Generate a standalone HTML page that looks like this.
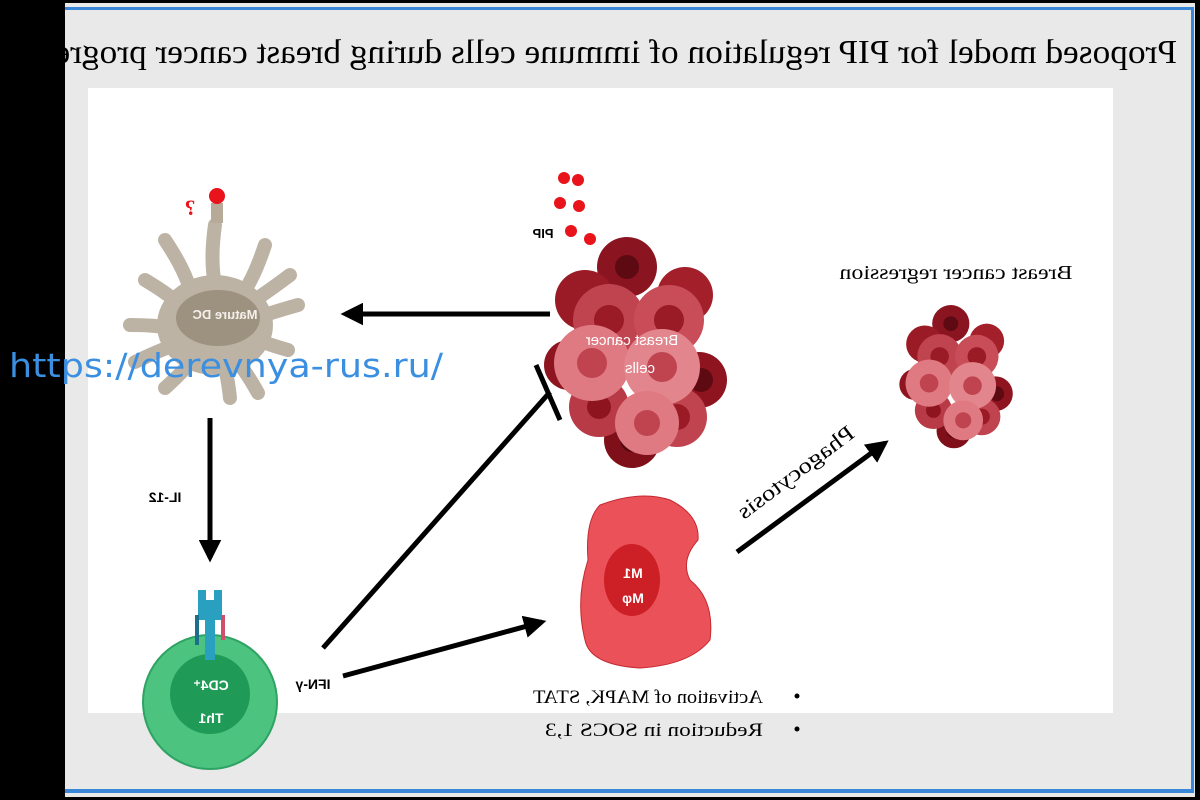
<!DOCTYPE html>
<html><head><meta charset="utf-8"><style>
html,body{margin:0;padding:0;background:#000;width:1200px;height:800px;overflow:hidden}
svg{display:block}
.m{font-family:"Liberation Sans",sans-serif}
.s{font-family:"Liberation Serif",serif}
</style></head><body>
<svg width="1200" height="800" viewBox="0 0 1200 800" xmlns="http://www.w3.org/2000/svg">
<defs>
<g id="tumor">
 <circle cx="-10" cy="-78" r="30" fill="#8a1420"/><circle cx="-10" cy="-78" r="12" fill="#5e0a12"/>
 <circle cx="48" cy="-50" r="28" fill="#a3202b"/>
 <circle cx="-52" cy="-45" r="30" fill="#9a1a25"/>
 <circle cx="62" cy="35" r="28" fill="#8e1520"/><circle cx="64" cy="35" r="12" fill="#5e0a12"/>
 <circle cx="-5" cy="95" r="28" fill="#7f1019"/><circle cx="-5" cy="95" r="12" fill="#560810"/>
 <circle cx="-68" cy="20" r="25" fill="#8e1520"/>
 <circle cx="-28" cy="-25" r="36" fill="#c04450"/><circle cx="-28" cy="-25" r="15" fill="#9a1a25"/>
 <circle cx="32" cy="-25" r="35" fill="#c84d58"/><circle cx="32" cy="-25" r="15" fill="#9a1a25"/>
 <circle cx="40" cy="72" r="30" fill="#c04450"/><circle cx="40" cy="72" r="13" fill="#9a1a25"/>
 <circle cx="-38" cy="62" r="30" fill="#b83a46"/><circle cx="-38" cy="62" r="12" fill="#8e1520"/>
 <circle cx="-45" cy="18" r="38" fill="#e07a82"/><circle cx="-45" cy="18" r="15" fill="#c04450"/>
 <circle cx="25" cy="22" r="38" fill="#e3858c"/><circle cx="25" cy="22" r="15" fill="#c04450"/>
 <circle cx="10" cy="78" r="32" fill="#e07a82"/><circle cx="10" cy="78" r="13" fill="#c04450"/>
</g>
<marker id="ah" viewBox="0 0 10 10" refX="8" refY="5" markerWidth="4.5" markerHeight="4.5" orient="auto"><path d="M0,0 L10,5 L0,10 z" fill="#000"/></marker>
</defs>
<rect x="65" y="3" width="1130" height="794" fill="#e9e9e9"/>
<rect x="65" y="7" width="1128" height="3" fill="#3a86d8"/>
<rect x="1191" y="7" width="3" height="786" fill="#3a86d8"/>
<rect x="65" y="789" width="1129" height="4" fill="#3a86d8"/>
<text class="s" font-size="34" text-anchor="middle" textLength="1150" lengthAdjust="spacingAndGlyphs" transform="translate(602,63) scale(-1,1)">Proposed model for PIP regulation of immune cells during breast cancer progress</text>
<rect x="88" y="88" width="1025" height="625" fill="#fff"/>

<!-- DC -->
<g stroke="#bdb3a5" stroke-width="14" stroke-linecap="round" fill="none">
<path d="M215,225 Q210,260 215,285"/><path d="M165,240 Q185,270 190,290"/><path d="M265,245 Q255,275 245,290"/>
<path d="M290,275 Q270,290 255,300"/><path d="M298,305 Q280,310 265,315"/><path d="M145,280 Q170,295 180,305"/>
<path d="M130,325 Q155,325 170,328"/><path d="M135,362 Q160,350 175,345"/><path d="M288,350 Q270,345 258,340"/>
<path d="M165,388 Q185,370 192,360"/><path d="M230,398 Q228,380 225,368"/><path d="M258,393 Q248,375 240,365"/>
</g>
<ellipse cx="215" cy="325" rx="58" ry="50" fill="#bdb3a5"/>
<ellipse cx="218" cy="318" rx="42" ry="28" fill="#9d9180"/>
<text class="m" font-size="13" font-weight="bold" fill="#f4f0ea" text-anchor="middle" transform="translate(225,319) scale(-1,1)">Mature DC</text>
<rect x="211" y="203" width="12" height="20" fill="#b7aa98"/>
<circle cx="217" cy="196" r="8" fill="#e8131b"/>
<text class="s" font-size="22" font-weight="bold" fill="#e8131b" text-anchor="middle" transform="translate(190,215) scale(-1,1)">?</text>

<!-- arrows -->
<g stroke="#000" stroke-width="5" fill="none">
<line x1="550" y1="314" x2="345" y2="314" marker-end="url(#ah)"/>
<line x1="210" y1="418" x2="210" y2="558" marker-end="url(#ah)"/>
<line x1="323" y1="648" x2="550" y2="392"/>
<line x1="536" y1="365" x2="560" y2="420"/>
<line x1="343" y1="676" x2="542" y2="622" marker-end="url(#ah)"/>
<line x1="737" y1="552" x2="885" y2="443" marker-end="url(#ah)"/>
</g>
<text class="m" font-size="14" font-weight="bold" text-anchor="middle" transform="translate(165,502) scale(-1,1)">IL-12</text>
<text class="m" font-size="14" font-weight="bold" text-anchor="middle" transform="translate(313,689) scale(-1,1)">IFN-γ</text>

<!-- CD4 -->
<circle cx="210" cy="702" r="67" fill="#4cc37f" stroke="#2ea363" stroke-width="2"/>
<circle cx="210" cy="694" r="40" fill="#1f9a57"/>
<rect x="205" y="600" width="10" height="60" fill="#2aa0c0"/>
<rect x="198" y="590" width="8" height="30" fill="#2aa0c0"/><rect x="214" y="590" width="8" height="30" fill="#2aa0c0"/>
<rect x="195" y="615" width="4" height="30" fill="#1d6e8a"/><rect x="221" y="615" width="4" height="25" fill="#d0506a"/>
<text class="m" font-size="14" font-weight="bold" fill="#fff" text-anchor="middle" transform="translate(211,690) scale(-1,1)">CD4⁺</text>
<text class="m" font-size="14" font-weight="bold" fill="#fff" text-anchor="middle" transform="translate(211,723) scale(-1,1)">Th1</text>

<!-- PIP -->
<g fill="#e8131b"><circle cx="564" cy="178" r="6"/><circle cx="578" cy="180" r="6"/><circle cx="560" cy="203" r="6"/><circle cx="579" cy="206" r="6"/><circle cx="571" cy="231" r="6"/><circle cx="590" cy="239" r="6"/></g>
<text class="m" font-size="13" font-weight="bold" text-anchor="middle" transform="translate(543,238) scale(-1,1)">PIP</text>

<use href="#tumor" transform="translate(637,345)"/>
<text class="m" font-size="15" fill="#fff" text-anchor="middle" transform="translate(632,345) scale(-1,1)">Breast cancer</text>
<text class="m" font-size="15" fill="#fff" text-anchor="middle" transform="translate(640,373) scale(-1,1)">cells</text>

<!-- M1 -->
<path d="M600,505 Q640,490 670,500 Q700,515 698,540 Q680,560 690,580 Q715,600 710,640 Q690,665 640,668 Q590,665 585,640 Q575,600 588,560 Q585,520 600,505Z" fill="#ea5158" stroke="#c32a30" stroke-width="1"/>
<ellipse cx="632" cy="580" rx="28" ry="36" fill="#cc1f26"/>
<text class="m" font-size="14" font-weight="bold" fill="#fff" text-anchor="middle" transform="translate(633,578) scale(-1,1)">M1</text>
<text class="m" font-size="14" font-weight="bold" fill="#fff" text-anchor="middle" transform="translate(633,603) scale(-1,1)">Mφ</text>

<text class="s" font-size="22" text-anchor="middle" textLength="140" lengthAdjust="spacingAndGlyphs" transform="matrix(-0.8,0.6,0.6,0.8,800,478)">Phagocytosis</text>

<text class="s" font-size="20" text-anchor="middle" textLength="233" lengthAdjust="spacingAndGlyphs" transform="translate(956,279) scale(-1,1)">Breast cancer regression</text>
<use href="#tumor" transform="translate(957,372) scale(0.62)"/>

<g class="s" font-size="19">
<text textLength="230" lengthAdjust="spacingAndGlyphs" transform="translate(763,703) scale(-1,1)">Activation of MAPK, STAT</text>
<text textLength="218" lengthAdjust="spacingAndGlyphs" transform="translate(763,736) scale(-1,1)">Reduction in SOCS 1,3</text>
</g>
<circle cx="797" cy="696" r="2.5" fill="#000"/><circle cx="797" cy="729" r="2.5" fill="#000"/>

<text x="9" y="377" font-family="DejaVu Sans,sans-serif" font-size="33" textLength="434" lengthAdjust="spacingAndGlyphs" fill="#3b8fe0">https://derevnya-rus.ru/</text>
</svg>
</body></html>
